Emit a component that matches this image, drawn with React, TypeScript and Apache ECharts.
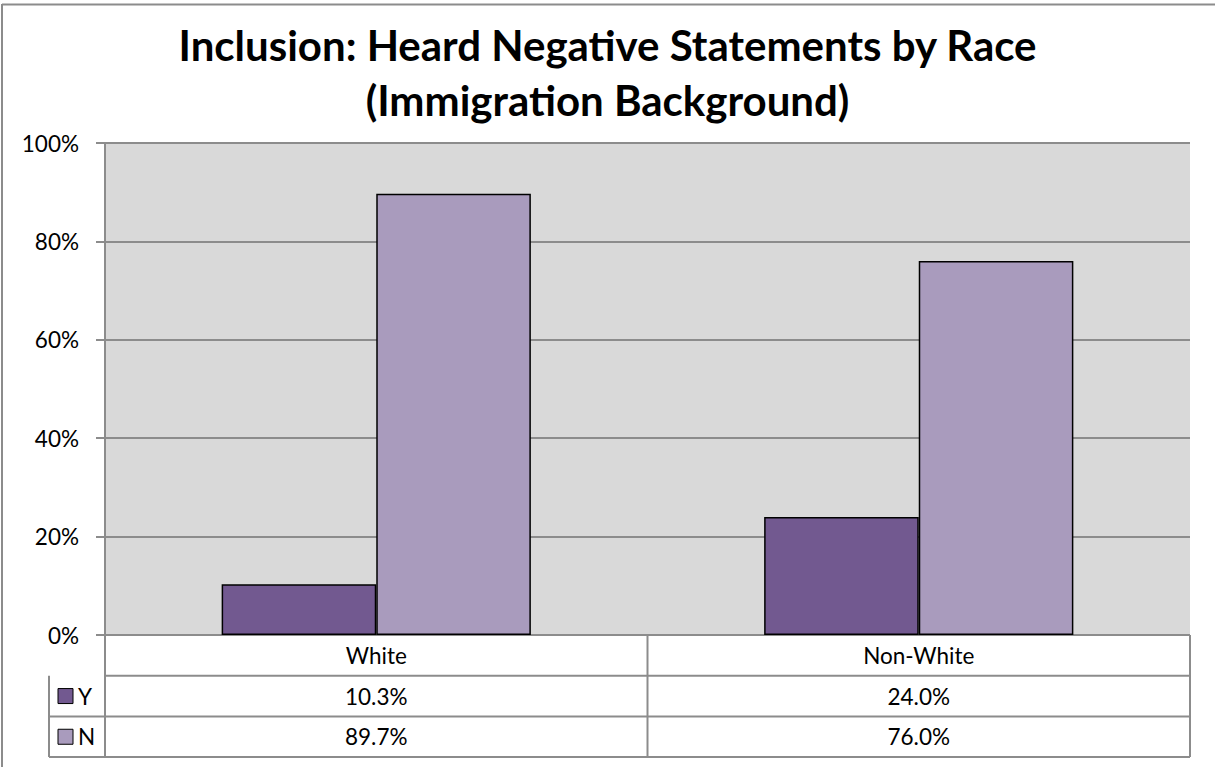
import React, { useEffect, useRef } from "react";
import * as echarts from "echarts";

const categories = ["White", "Non-White"];
const seriesNames = ["Y", "N"];
const yValues = [10.3, 24.0];
const nValues = [89.7, 76.0];
const yTicks = [0, 20, 40, 60, 80, 100];
const titleLines = ["Inclusion: Heard Negative Statements by Race", "(Immigration Background)"];

const colors = ["#725990", "#A99BBD"];
const W = 1215;
const H = 767;
const GL = 105;
const GR = 1190;
const GT = 143;
const GB = 635;
const ROW = 40.7;
const LEG_L = 49;
const LINE = "#8C8C8C";
const FONT = "Lato";
const FS = 22.5;

export default function App() {
  const ref = useRef<HTMLDivElement>(null);
  useEffect(() => {
    if (!ref.current) return;
    const chart = echarts.init(ref.current, undefined, { renderer: "svg" });
    const seriesData = [yValues, nValues];
    const catW = (GR - GL) / categories.length;
    const graphics: any[] = [];
    graphics.push({ type: "line", shape: { x1: 2, y1: 4.5, x2: W, y2: 4.5 }, style: { stroke: LINE, lineWidth: 2 } });
    graphics.push({ type: "line", shape: { x1: 2, y1: 4, x2: 2, y2: H }, style: { stroke: LINE, lineWidth: 2 } });
    for (let r = 1; r <= 3; r++) {
      const y = GB + ROW * r;
      graphics.push({ type: "line", shape: { x1: r === 1 ? GL : LEG_L, y1: y, x2: GR, y2: y }, style: { stroke: LINE, lineWidth: 2 } });
    }
    for (let c = 0; c <= categories.length; c++) {
      const x = GL + catW * c;
      graphics.push({ type: "line", shape: { x1: x, y1: GB, x2: x, y2: GB + ROW * 3 }, style: { stroke: LINE, lineWidth: 2 } });
    }
    graphics.push({ type: "line", shape: { x1: LEG_L, y1: GB + ROW, x2: LEG_L, y2: GB + ROW * 3 }, style: { stroke: LINE, lineWidth: 2 } });
    categories.forEach((c, i) => {
      graphics.push({ type: "text", x: GL + catW * (i + 0.5), y: GB + ROW * 0.5, style: { text: c, fontFamily: FONT, fontSize: FS, fill: "#000", align: "center", verticalAlign: "middle" } });
    });
    seriesNames.forEach((s, r) => {
      const cy = GB + ROW * (r + 1.5);
      graphics.push({ type: "rect", shape: { x: 58, y: cy - 7.5, width: 15, height: 15 }, style: { fill: colors[r], stroke: "#000", lineWidth: 1 } });
      graphics.push({ type: "text", x: 78, y: cy, style: { text: s, fontFamily: FONT, fontSize: FS, fill: "#000", align: "left", verticalAlign: "middle" } });
      seriesData[r].forEach((v, i) => {
        graphics.push({ type: "text", x: GL + catW * (i + 0.5), y: cy, style: { text: v.toFixed(1) + "%", fontFamily: FONT, fontSize: FS, fill: "#000", align: "center", verticalAlign: "middle" } });
      });
    });

    chart.setOption({
      animation: false,
      title: {
        text: titleLines.join("\n"),
        left: "center",
        top: 12,
        textStyle: { fontFamily: FONT, fontWeight: "bold", fontSize: 42, lineHeight: 55, color: "#000" },
      },
      grid: {
        left: GL,
        right: W - GR,
        top: GT,
        bottom: H - GB,
        show: true,
        backgroundColor: "#D9D9D9",
        borderWidth: 0,
      },
      xAxis: {
        type: "category",
        data: categories,
        axisLabel: { show: false },
        axisTick: { show: false },
        axisLine: { show: false },
      },
      yAxis: {
        type: "value",
        min: 0,
        max: 100,
        interval: 20,
        axisLabel: {
          formatter: (v: number) => (yTicks.includes(v) ? v + "%" : ""),
          fontFamily: FONT,
          fontSize: FS,
          color: "#000",
          margin: 26,
        },
        axisLine: { show: true, lineStyle: { color: LINE, width: 2 } },
        axisTick: { show: true, length: 9, lineStyle: { color: LINE, width: 2 } },
        splitLine: { show: true, lineStyle: { color: LINE, width: 2 } },
      },
      series: seriesNames.map((s, i) => ({
        name: s,
        type: "bar",
        data: seriesData[i],
        barGap: "0%",
        barCategoryGap: "43%",
        itemStyle: { color: colors[i], borderColor: "#000", borderWidth: 1.5 },
      })),
      graphic: graphics,
    });
    return () => chart.dispose();
  }, []);
  return <div ref={ref} style={{ position: "absolute", left: 0, top: 0, width: W, height: H }} />;
}
